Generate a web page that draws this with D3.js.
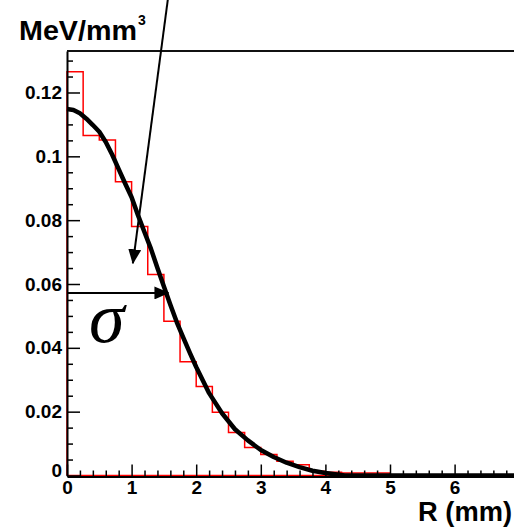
<!DOCTYPE html>
<html>
<head>
<meta charset="utf-8">
<script src="https://cdn.jsdelivr.net/npm/d3@7"></script>
<style>
  body { margin: 0; background: #fff; }
  svg { display: block; }
  .tick text { font-family: "Liberation Sans", Arial, sans-serif; font-weight: bold; font-size: 19px; fill: #000; }
</style>
</head>
<body>
<svg id="chart" width="514" height="527"></svg>
<script>
"use strict";
/*global d3:false */

// histogram (red), bins of 0.25 mm
var binEdges = [0, 0.25, 0.5, 0.75, 1, 1.25, 1.5, 1.75, 2, 2.25, 2.5,
                2.75, 3, 3.25, 3.5, 3.75, 4, 4.25, 4.5, 4.75, 5];
var binValues = [0.1265, 0.1065, 0.1051, 0.0920, 0.0780, 0.0630, 0.0483, 0.0356,
                 0.0279, 0.0198, 0.0135, 0.0088, 0.0066, 0.0045, 0.0034, 0.0013,
                 0.0010, 0.0008, 0.0008, 0.0008];

// smooth profile (black)
var curveR = [0, 0.1, 0.2, 0.3, 0.4, 0.5, 0.6, 0.7, 0.8, 0.9, 1.0, 1.1, 1.2, 1.3,
              1.4, 1.5, 1.6, 1.7, 1.8, 1.9, 2.0, 2.2, 2.4, 2.6, 2.8, 3.0, 3.2,
              3.4, 3.6, 3.8, 4.0, 4.15, 4.3, 5, 6, 7, 8];
var curveV = [0.1148, 0.1145, 0.1135, 0.1118, 0.1098, 0.1077, 0.1045, 0.1005,
              0.0960, 0.0915, 0.0872, 0.0815, 0.0762, 0.0710, 0.0650, 0.0592,
              0.0535, 0.0480, 0.0432, 0.0385, 0.0340, 0.0258, 0.0195, 0.0145,
              0.0110, 0.0080, 0.0058, 0.0040, 0.0026, 0.0015, 0.0008, 0.0004,
              0, 0, 0, 0, 0];

var xTickValues = [0, 1, 2, 3, 4, 5, 6, 7, 8];
var xTickLabels = ['0', '1', '2', '3', '4', '5', '6', '', ''];
var yTickLabels = [0, 0.02, 0.04, 0.06, 0.08, 0.1, 0.12];

// annotations, in data units
var sigmaPoint = [1.57, 0.0572];
var pointerFrom = [1.56, 0.149];
var pointerTo = [1.02, 0.0665];

var svg = d3.select('#chart');
var x = d3.scaleLinear().domain([0, 8]).range([67, 67 + 8 * 64.6]);
var y = d3.scaleLinear().domain([0, 0.133]).range([475.5, 51]);

var line = d3.line()
    .x(function(d) { return x(d[0]); })
    .y(function(d) { return y(d[1]); });

// histogram outline as closed polygon
var histPts = [[binEdges[0], 0]];
binValues.forEach(function(v, i) {
  histPts.push([binEdges[i], v]);
  histPts.push([binEdges[i + 1], v]);
});
histPts.push([binEdges[binEdges.length - 1], 0]);
histPts.push([binEdges[0], 0]);

svg.append('path')
  .attr('d', line(histPts))
  .attr('fill', 'none')
  .attr('stroke', '#ff0000')
  .attr('stroke-width', 1.5);

svg.append('path')
  .attr('d', line(curveR.map(function(r, i) { return [r, curveV[i]]; })))
  .attr('fill', 'none')
  .attr('stroke', '#000')
  .attr('stroke-width', 4.5)
  .attr('stroke-linejoin', 'round');

// axes
var yMinor = d3.range(0, 0.1301, 0.005).filter(function(v) {
  return Math.abs(v / 0.02 - Math.round(v / 0.02)) > 1e-6;
});
var xMinor = d3.range(0, 8.01, 0.2).filter(function(v) {
  return Math.abs(v - Math.round(v)) > 1e-6;
});

var gy = svg.append('g').attr('transform', 'translate(' + x(0) + ',0)')
  .call(d3.axisLeft(y).tickValues(yTickLabels).tickSizeInner(-13).tickSizeOuter(0)
    .tickPadding(5).tickFormat(function(d) { return d === 0 ? '0' : d3.format('')(d); }));
gy.append('g')
  .call(d3.axisLeft(y).tickValues(yMinor).tickSize(-6).tickFormat(''))
  .select('.domain').remove();
gy.selectAll('.tick text').filter(function(d) { return d === 0; }).attr('dy', '0.05em');

var gx = svg.append('g').attr('transform', 'translate(0,' + (y(0) + 1) + ')')
  .call(d3.axisBottom(x).tickValues(xTickValues).tickSizeInner(-12).tickSizeOuter(0)
    .tickPadding(4).tickFormat(function(d, i) { return xTickLabels[i]; }));
gx.append('g')
  .call(d3.axisBottom(x).tickValues(xMinor).tickSize(-6).tickFormat(''))
  .select('.domain').remove();

svg.selectAll('.domain').attr('stroke-width', 2).attr('stroke', '#000');
svg.selectAll('.tick line').attr('stroke-width', 1.5).attr('stroke', '#000');

// top frame line
svg.append('line')
  .attr('x1', x(0)).attr('x2', x(8))
  .attr('y1', y(0.133)).attr('y2', y(0.133))
  .attr('stroke', '#111').attr('stroke-width', 1.8);

// arrows
var defs = svg.append('defs');
defs.append('marker')
  .attr('id', 'head')
  .attr('markerUnits', 'userSpaceOnUse')
  .attr('viewBox', '0 0 15 13')
  .attr('refX', 14).attr('refY', 6.5)
  .attr('markerWidth', 15).attr('markerHeight', 13)
  .attr('orient', 'auto')
  .append('path')
  .attr('d', 'M0,0 L15,6.5 L0,13 Z')
  .attr('fill', '#000');

svg.append('line')
  .attr('x1', x(0)).attr('y1', y(sigmaPoint[1]))
  .attr('x2', x(sigmaPoint[0])).attr('y2', y(sigmaPoint[1]))
  .attr('stroke', '#000').attr('stroke-width', 2)
  .attr('marker-end', 'url(#head)');

svg.append('line')
  .attr('x1', x(pointerFrom[0])).attr('y1', y(pointerFrom[1]))
  .attr('x2', x(pointerTo[0])).attr('y2', y(pointerTo[1]))
  .attr('stroke', '#000').attr('stroke-width', 2)
  .attr('marker-end', 'url(#head)');

// texts
svg.append('text')
  .attr('x', 89).attr('y', 342)
  .attr('font-family', '"Liberation Serif", "Times New Roman", serif')
  .attr('font-style', 'italic')
  .attr('font-size', 72)
  .text('σ');

var ytitle = svg.append('text')
  .attr('x', 19).attr('y', 40)
  .attr('font-family', '"Liberation Sans", Arial, sans-serif')
  .attr('font-weight', 'bold')
  .attr('font-size', 27);
ytitle.append('tspan').attr('textLength', 118).attr('lengthAdjust', 'spacingAndGlyphs').text('MeV/mm');
ytitle.append('tspan').attr('x', 138).attr('y', 25).attr('font-size', 14).text('3');

svg.append('text')
  .attr('x', 418).attr('y', 521)
  .attr('font-family', '"Liberation Sans", Arial, sans-serif')
  .attr('font-weight', 'bold')
  .attr('font-size', 27)
  .attr('textLength', 94)
  .attr('lengthAdjust', 'spacingAndGlyphs')
  .text('R (mm)');
</script>
</body>
</html>
